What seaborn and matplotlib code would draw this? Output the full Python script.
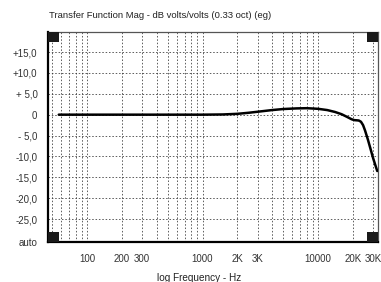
"""
plot.py
-------
Transfer function magnitude (dB volts/volts, 1/3 octave) vs log frequency.
"""

import matplotlib
matplotlib.use("Agg")
import matplotlib.pyplot as plt
import pandas as pd
import seaborn as sns
from matplotlib.patches import Rectangle

FREQ_HZ = [57, 500, 1000, 1500, 2000, 2500, 3000, 4000, 5000, 6500, 8000,
           10000, 12000, 14000, 16000, 18000, 19500, 20500, 21500, 22500,
           23500, 24500, 25500, 27000, 28500, 30000, 32500]
MAG_DB = [0.0, 0.0, 0.0, 0.05, 0.2, 0.45, 0.7, 1.1, 1.35, 1.5, 1.55,
          1.4, 1.1, 0.65, 0.1, -0.6, -1.1, -1.3, -1.35, -1.4,
          -1.7, -2.5, -3.8, -6.0, -8.3, -10.5, -13.5]

X_TICKS = [100, 200, 300, 1000, 2000, 3000, 10000, 20000, 30000]
X_LABELS = ["100", "200", "300", "1000", "2K", "3K", "10000", "20K", "30K"]
X_GRID = [m * d for d in (10, 100, 1000, 10000) for m in range(1, 10)
          if 50 <= m * d <= 30000]

Y_BOTTOM = -30.5
Y_TICKS = [15, 10, 5, 0, -5, -10, -15, -20, -25, Y_BOTTOM]
Y_LABELS = ["+15,0", "+10,0", "+ 5,0", "0", "- 5,0", "-10,0", "-15,0",
            "-20,0", "-25,0", "auto"]

TITLE = "Transfer Function Mag - dB volts/volts (0.33 oct) (eg)"
XLABEL = "log Frequency - Hz"

sns.set_theme(style="white")
plt.rcParams["font.family"] = ["Liberation Sans", "DejaVu Sans"]
plt.rcParams["font.size"] = 7

W, H = 381, 282
fig = plt.figure(figsize=(W / 100, H / 100), dpi=100)
ax = fig.add_axes([48 / W, 1 - 242 / H, 330 / W, 210 / H])

df = pd.DataFrame({"freq": FREQ_HZ, "mag": MAG_DB})
sns.lineplot(data=df, x="freq", y="mag", color="black", linewidth=1.8,
             ax=ax, zorder=5)

ax.set_xscale("log")
ax.set_xlim(46, 33000)
ax.set_ylim(Y_BOTTOM, 19.8)

ax.set_xticks(X_TICKS)
ax.set_xticklabels(X_LABELS)
ax.set_xticks(X_GRID, minor=True)
ax.set_yticks(Y_TICKS)
ax.set_yticklabels(Y_LABELS)

ax.tick_params(axis="both", which="major", direction="out", length=3.6,
               width=0.9, color="black", labelsize=7, labelcolor="#333333")
ax.tick_params(axis="x", which="major", pad=5)
ax.tick_params(axis="y", which="major", pad=4)
ax.tick_params(axis="x", which="minor", length=0)

grid_kw = dict(color="#333333", linewidth=0.55, linestyle=(0, (2.0, 2.4)))
ax.xaxis.grid(True, which="both", **grid_kw)
ax.yaxis.grid(True, which="major", **grid_kw)
ax.set_axisbelow(True)

for side in ("left", "bottom"):
    ax.spines[side].set_color("black")
    ax.spines[side].set_linewidth(1.6)
for side in ("top", "right"):
    ax.spines[side].set_color("#555555")
    ax.spines[side].set_linewidth(0.9)

# black corner markers
sq_w, sq_h = 11 / 330, 10 / 210
for cx, cy in [(0, 0), (1 - sq_w, 0), (0, 1 - sq_h), (1 - sq_w, 1 - sq_h)]:
    ax.add_patch(Rectangle((cx, cy), sq_w, sq_h, transform=ax.transAxes,
                           facecolor="#1a1a1a", edgecolor="none", zorder=6,
                           clip_on=False))

ax.set_xlabel("")
ax.set_ylabel("")
fig.text(49 / W, 1 - 15 / H, TITLE, ha="left", va="center", fontsize=6.8,
         color="#222222")
fig.text(199 / W, 1 - 273 / H, XLABEL, ha="center", va="top", fontsize=7.2,
         color="#222222")

fig.savefig("out.png", dpi=100)
plt.close(fig)
